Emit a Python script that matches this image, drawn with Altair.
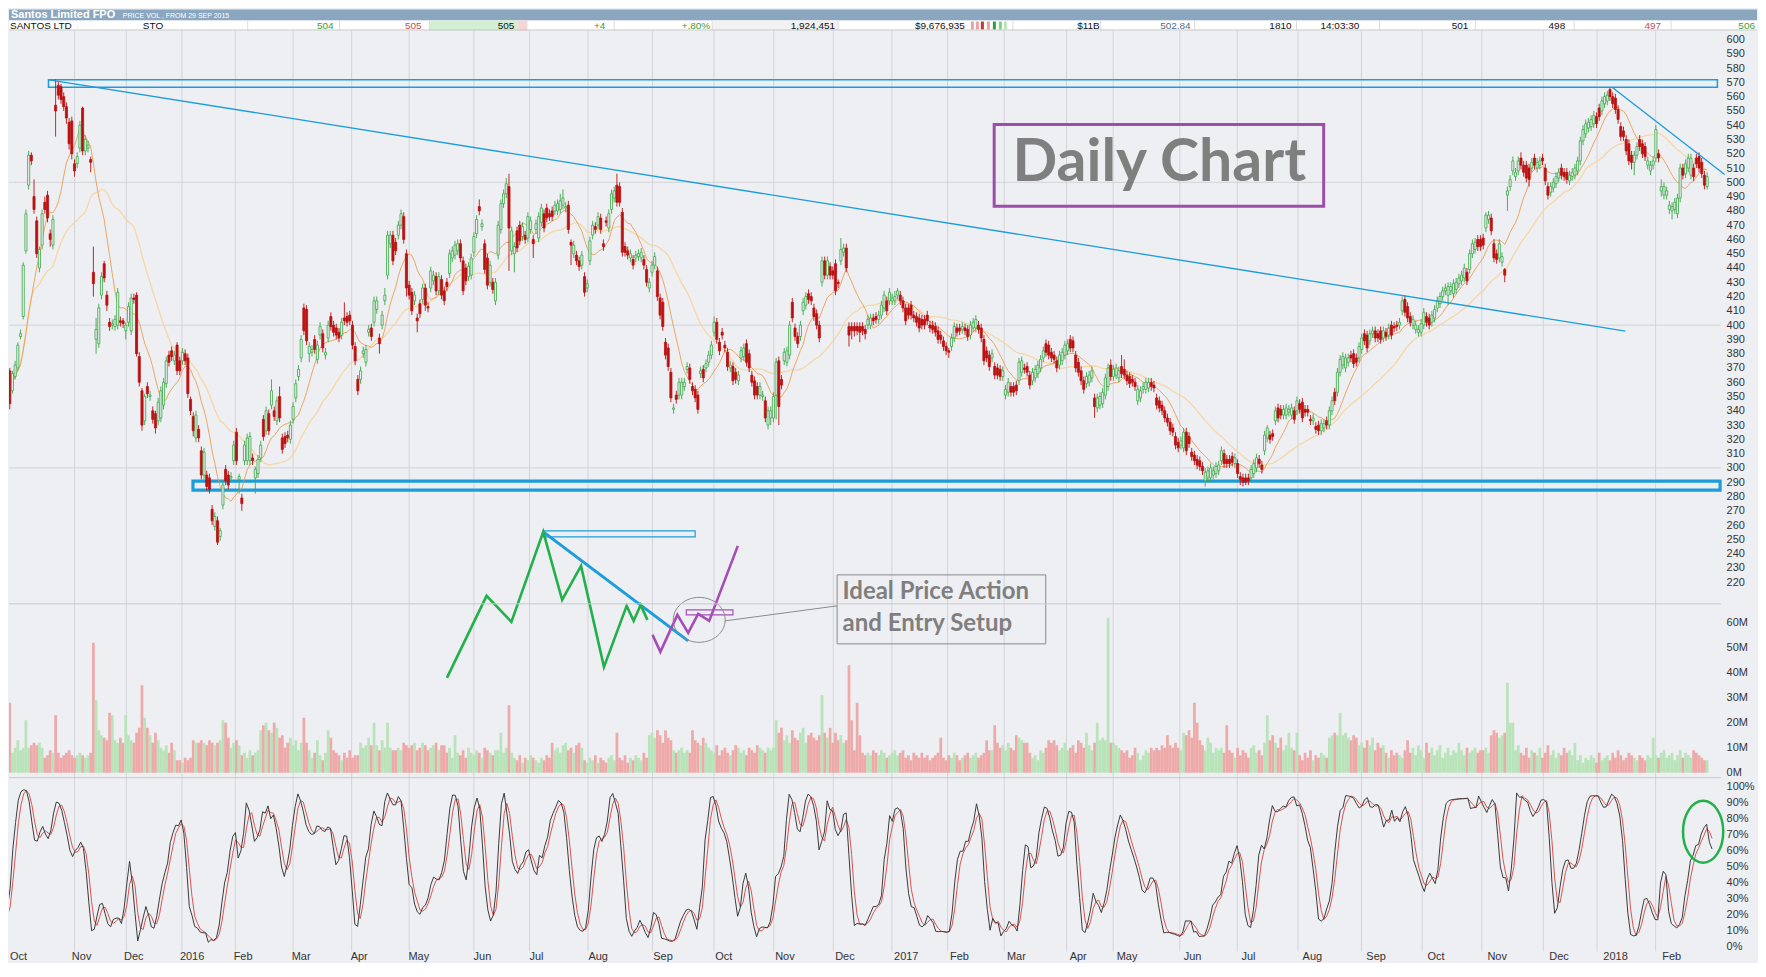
import altair as alt
import pandas as pd

# ---------------- candles: (open, close, high, low) in cents, one per trading day ----------------
CANDLES_SEG1 = [
(393,372,396,366),(368,345,370,341),(354,366,368,352),(364,372,375,362),(370,386,388,368),
(392,394,397,390),(406,442,444,404),(452,478,481,450),(498,519,522,495),(519,515,521,512),
(490,481,502,478),(473,450,476,447),(440,453,455,437),(456,478,481,453),(486,481,490,478),
(491,475,494,472),(464,460,467,455),(456,474,477,453),(554,550,572,532),(568,561,571,558),
(567,558,569,555),(560,553,563,550),(553,545,556,541),(542,527,545,523),(543,520,546,516),
(513,508,516,504),(513,518,521,510),(524,540,543,521),(552,522,553,519),(522,530,533,519),
(524,526,529,521),(516,514,518,507),(437,429,455,420),(390,397,405,380),(387,412,415,384),
(421,434,437,418),(443,433,445,430),(421,414,424,410),(402,399,405,396),(400,401,404,397),
(399,404,407,396),(400,423,426,397),(403,402,406,399),(403,401,405,398),(396,400,402,390),
(402,413,416,399),(396,419,422,393),(419,418,422,415),(421,380,423,378),(378,360,381,357),
(354,330,356,326),(333,350,352,330),(357,352,360,349),(350,351,354,347),(340,334,343,331),
(338,328,340,324),(333,346,349,330),(335,354,357,332),(344,360,363,341),(359,375,378,356),
(379,374,382,371),(382,378,385,375),(375,379,382,372),(386,368,388,365),(375,368,378,365),
(375,381,384,372),(380,375,383,372),(377,352,380,349),(348,340,350,337),(336,326,339,322),
(321,337,340,318),(327,321,330,318),(312,295,315,292),(295,311,314,292),(295,287,298,284),
(293,285,296,282),(271,263,274,260),(259,266,269,256),(263,248,266,246),(252,256,258,249),
(274,288,291,271),(299,291,302,288),(295,288,298,285),(293,294,297,290),(305,316,319,302),
(325,305,328,302),(292,294,296,282),(279,275,282,270),(305,316,319,302),(305,321,324,302),
(305,322,325,302),(307,305,310,302),(293,299,301,282),(296,306,309,293),(307,316,319,304),
(334,322,337,319),(326,340,343,323),(338,326,341,323),(344,354,362,341),(340,336,343,333),
(333,347,350,330),(350,335,357,332),(321,313,324,310),(322,317,325,314),(323,321,326,318),
(320,330,333,317),(334,343,346,331),(349,359,362,346),(364,369,372,361),(377,390,393,374),
(412,396,415,393),(411,389,414,386),(380,385,388,374),(381,383,386,378),(390,383,393,380),
(376,386,389,373),(393,399,402,390),(394,384,397,381),(379,381,384,376),(391,400,403,388),
(406,399,409,396),(400,395,403,392),(398,393,401,390),(395,391,398,388),(393,402,405,390),
(405,403,416,400),(406,402,409,399),(407,403,410,400),(400,386,403,383),(385,375,388,372),
(362,354,365,351),(362,368,371,359),(380,382,385,377),(374,383,386,371),(395,397,400,392),
(398,392,401,389),(402,417,420,399),(411,417,420,408),(391,387,394,380),(400,407,410,397),
(417,421,426,414),(435,463,466,432),(457,463,466,454),(463,445,466,442),(458,452,461,449),
(463,470,473,460),(470,478,481,467),(476,460,479,457),(450,426,453,420),(428,421,431,418),
(423,410,426,407),(417,421,424,414),(405,403,408,395),(415,408,418,405),(418,426,429,415),
(426,414,429,410),(413,412,416,409),(426,438,441,423),(431,435,438,428),(434,424,437,421),
(424,434,437,421),(432,421,435,418),
]
CANDLES_SEG2 = [
(424,417,427,414),(430,427,433,424),(436,450,453,433),(447,452,455,444),(449,456,459,446),
(452,457,460,449),(457,447,460,444),(445,424,448,421),(440,431,443,428),(434,441,444,431),
(435,447,450,432),(451,462,465,448),(464,474,477,461),(483,480,488,477),(469,471,474,466),
(457,439,460,436),(447,428,450,425),(430,442,445,427),(430,425,433,422),(417,430,433,414),
(449,470,473,446),(467,485,488,464),(485,492,495,482),(492,499,503,489),(497,468,506,438),
(452,466,469,449),(450,455,458,437),(466,454,469,451),(470,459,473,456),(462,469,472,459),
(463,460,466,457),(461,476,479,458),(467,473,476,464),(460,457,463,447),(467,471,474,464),
(461,476,479,458),(472,482,485,469),(478,468,481,465),(482,475,485,472),(478,476,481,473),
(480,476,483,473),(480,484,487,477),(480,485,488,477),(481,487,492,478),(484,489,495,481),
(482,483,486,479),(484,467,487,464),(458,456,460,442),(450,456,459,447),(449,445,452,442),
(445,441,448,438),(442,449,452,439),(434,423,437,420),(426,429,432,423),(445,459,462,442),
(463,470,473,460),(469,467,472,464),(470,476,479,467),(475,467,478,464),(457,455,460,452),
(473,472,476,469),(468,478,481,465),(481,492,495,478),(489,494,497,486),(498,486,506,483),
(497,486,500,483),(479,451,482,448),(455,451,458,448),(452,449,455,446),(447,450,453,444),
(446,442,449,439),(447,449,452,444),(448,450,453,445),(447,451,454,444),(446,442,449,439),
(439,430,442,427),(426,430,433,423),(437,442,445,434),(442,448,451,439),(438,420,441,417),
(419,407,422,404),(416,399,419,396),(388,379,391,376),(384,371,387,368),(367,349,370,346),
(341,342,345,338),(351,348,354,345),(351,360,363,348),(351,360,363,348),(357,360,363,354),
(369,371,374,366),(370,362,373,359),(357,354,360,351),(355,349,358,346),(351,341,354,338),
(366,368,371,363),(369,363,372,360),(370,373,376,367),(374,379,382,371),(379,386,389,376),
(395,402,406,392),(402,390,405,387),(388,382,391,379),(395,393,398,390),(386,384,389,381),
(381,371,384,368),(370,372,375,367),(371,361,374,358),(367,362,370,359),(361,365,368,358),
(377,382,385,374),(378,384,387,375),(387,374,390,371),(380,370,383,367),(365,360,368,357),
(361,351,364,348),(357,351,360,348),(351,357,360,348),(350,351,354,347),(347,335,350,332),
(330,340,343,327),(335,340,343,330),(335,350,353,332),(351,374,377,334),(375,343,378,330),
(362,358,365,355),(375,381,384,372),(374,382,385,371),(379,400,403,376),(416,405,419,402),
(398,392,401,389),(392,387,395,384),(392,400,403,389),(410,416,419,407),(414,420,423,411),
(422,418,425,415),(420,417,423,414),(412,406,415,403),(408,400,411,397),(400,391,403,388),
(430,445,448,427),(445,435,448,432),(435,445,448,432),(441,435,444,432),(438,435,441,432),
(443,424,446,421),(430,429,432,426),(445,453,461,442),(451,454,457,448),(454,440,457,437),
(399,393,402,385),(399,396,402,390),(399,396,402,392),(399,396,402,393),(399,395,402,388),
(399,396,402,393),(397,394,400,390),
]
CANDLES_SEG3 = [
(400,404,407,397),(400,405,408,397),(405,403,408,400),(406,404,409,401),(404,407,410,401),
(407,414,417,404),(412,421,424,409),(417,410,420,407),(417,423,426,414),(417,419,422,414),
(417,420,424,414),(421,424,426,418),(421,417,424,414),(417,412,420,409),(412,403,415,400),
(412,407,415,404),(414,407,417,404),(407,405,410,402),(406,402,409,399),(405,398,408,395),
(404,400,407,397),(404,400,407,397),(407,403,410,400),(400,398,403,395),(400,397,403,394),
(399,395,402,392),(396,390,399,387),(393,390,396,387),(389,385,392,382),(385,382,388,379),
(382,381,384,377),(385,391,394,382),(391,399,402,388),(398,395,401,392),(398,396,401,393),
(397,399,402,394),(398,396,401,393),(397,392,400,389),(393,400,403,390),(398,402,405,395),
(398,404,407,395),(400,397,403,394),(398,391,401,388),(390,375,393,372),(382,377,385,374),
(379,371,382,368),(377,380,383,374),(371,365,374,362),(370,365,373,362),(369,364,372,361),
(364,368,371,361),(351,355,358,348),(353,360,363,350),(357,353,360,350),(357,353,360,350),
(358,354,361,351),(361,374,377,358),(367,375,378,364),(370,369,373,366),(371,367,374,364),
(365,358,368,355),(361,367,370,358),(363,369,372,360),(366,372,375,363),(370,376,379,367),
(377,382,385,374),(387,381,390,378),(386,379,389,376),(381,377,384,374),(379,376,382,373),
(375,370,378,367),(372,379,382,369),(375,381,384,372),(379,386,389,376),(382,387,390,379),
(390,384,393,381),(389,384,392,381),(379,370,382,367),(374,367,377,364),(368,361,371,358),
(361,355,364,352),(359,364,367,356),(360,365,368,357),(363,368,371,360),(349,343,352,335),
(342,349,352,339),(344,350,353,341),(345,353,356,342),(351,363,366,348),(357,370,373,354),
(372,364,376,361),(364,369,372,361),(365,370,373,362),(363,368,371,360),(371,366,379,363),
(369,365,376,362),(365,361,368,358),(364,359,367,356),(362,360,365,357),(360,357,363,354),
(347,355,358,344),(349,354,357,346),(355,357,360,352),(355,360,363,352),(356,360,363,353),
(360,357,363,354),(358,356,361,353),(349,344,352,341),(347,342,350,339),(344,340,347,337),
(340,335,343,332),(335,332,338,329),(332,326,335,323),(328,325,331,322),(322,316,325,313),
(318,314,321,311),(316,319,322,313),(314,325,328,311),(325,312,328,309),(322,317,325,314),
(311,308,314,305),(309,305,312,302),(306,302,309,299),(305,301,308,298),(301,298,304,295),
(291,297,300,287),(293,298,301,290),(293,300,303,290),(295,298,301,292),(296,301,304,293),
(298,302,305,295),(305,312,315,302),(310,303,313,300),(306,303,309,300),(306,303,309,300),
(308,304,311,301),(303,307,310,300),(303,296,306,293),(294,292,297,288),(293,290,296,287),
(293,290,296,288),(293,291,296,288),(293,299,302,290),(296,303,306,293),(300,307,310,297),
(306,303,309,300),(302,299,305,296),(312,323,326,309),(321,328,330,318),(323,320,326,317),
(324,322,327,319),(333,340,343,330),(342,335,345,332),(341,337,344,334),(337,341,344,334),
(337,342,345,334),(339,341,344,336),(337,342,345,334),(340,334,343,331),(340,347,350,337),
]
CANDLES_SEG4 = [
(345,341,348,338),(346,335,349,332),(341,339,344,336),(341,339,344,336),(334,333,337,330),
(333,335,338,330),(329,327,332,324),(330,326,333,323),(326,331,334,323),(328,331,334,325),
(333,330,336,327),(330,340,343,327),(340,347,350,337),(353,347,356,344),(353,367,370,350),
(367,376,379,364),(372,378,381,369),(370,377,380,367),(374,377,380,371),(379,377,382,374),
(380,373,383,370),(377,374,380,371),(377,385,388,374),(383,391,394,380),(394,389,397,386),
(393,384,396,381),(389,394,397,386),(394,396,399,391),(396,391,399,388),(394,391,397,388),
(396,390,399,387),(391,396,399,388),(395,392,398,389),(393,398,401,390),(400,393,403,390),
(399,398,402,395),(400,399,403,396),(400,402,405,397),(410,417,420,407),(418,409,421,406),
(413,405,416,402),(406,402,409,399),(400,404,407,397),(397,400,403,394),(395,397,400,392),
(395,401,404,392),(400,409,412,397),(406,402,409,399),(405,400,408,397),(402,407,410,399),
(405,411,414,402),(412,417,420,409),(415,420,423,412),(420,424,427,417),(424,426,429,421),
(421,427,430,414),(424,427,430,421),(422,429,432,419),(425,430,433,422),(429,433,436,426),
(431,435,438,428),(433,440,443,430),(437,431,440,428),(439,450,453,436),(450,457,460,447),
(453,458,461,450),(460,455,463,452),(460,455,463,452),(461,456,464,453),(468,477,479,465),
(474,477,480,471),(475,466,478,463),(457,447,460,444),(450,446,453,443),(447,457,460,444),
(444,448,451,441),(439,435,440,430),(491,494,497,480),(497,502,505,494),(508,515,518,505),
(504,507,510,501),(508,515,518,505),(517,512,521,509),(512,507,515,504),(512,503,515,500),
(510,502,513,497),(510,514,517,507),(517,512,520,509),(510,514,517,507),(512,515,518,509),
(517,515,520,512),(510,501,513,498),(497,491,500,488),(493,497,500,490),(496,500,503,493),
(499,504,507,496),(503,507,510,500),(510,505,513,502),(507,504,510,501),(507,502,510,499),
(501,505,508,498),(504,507,510,501),(505,510,513,502),(508,515,518,505),(515,529,532,512),
(529,537,540,526),(534,541,544,531),(538,542,545,535),(539,544,547,536),(541,547,550,538),
(546,541,549,538),(552,546,555,543),(550,557,560,547),(555,560,563,552),(557,561,564,554),
(565,560,566,557),(560,555,563,552),(559,551,562,548),(551,544,554,541),(539,532,542,529),
(536,532,539,529),(530,522,533,519),(527,515,530,512),(519,514,522,509),(514,519,522,505),
(519,525,528,516),(530,525,533,522),(527,520,530,517),(525,518,528,515),(512,515,518,509),
(508,512,515,505),(512,515,518,509),(517,537,540,514),(520,517,523,514),(494,497,502,490),
(491,497,500,488),(491,494,497,488),(481,484,487,478),(480,483,486,474),(481,486,489,478),
(478,489,492,475),(489,510,513,486),(510,505,513,502),(506,513,516,503),(510,517,520,507),
(505,517,520,502),(510,504,513,501),(517,513,520,510),(518,510,521,507),(514,506,517,503),
(505,498,508,495),(497,504,507,495),
]

# ---------------- daily volume, millions of shares ----------------
VOL_SEG1 = [
15,28,8,10,13,9,10,21,10,11, 12,11,12,10,6,7,9,8,23,8, 6,7,8,9,7,6,7,8,7,6,
7,8,52,29,17,15,14,13,24,23, 13,12,14,12,23,15,13,12,16,18, 35,22,18,15,12,16,13,10,9,11,
8,12,9,5,5,4,6,5,6,13, 12,12,13,12,11,13,12,11,12,13, 21,20,14,10,12,13,11,7,8,6,
9,7,8,9,17,19,20,17,16,20, 18,14,15,10,12,14,11,13,9,12, 22,12,9,6,8,13,7,5,8,17,
14,9,8,7,5,8,6,9,6,7, 7,12,10,11,14,11,20,11,9,13, 10,20,10,9,9,10,9,12,11,10,
11,12,9,10,12,11,9,10,11,12, 9,11,
]
VOL_SEG2 = [
11,8,10,6,15,8, 7,9,6,10,8,7,9,8,6,10,9,8,7,9, 9,16,8,10,27,
8,6,5,7,4,6,5,7,6,5,4,6,5,7,6, 12,9,10,8,11,12,9,10,8,11,12,10,
5,4,6,5,7,4,6,5,4,6,7,5, 16, 6,5,7,4,6,5,7,6,5,8,6, 15,16,14,17,15,12,17,14,13,
9,8,9,10,8,9,8, 17, 13,12,11,14,12,
10,9,8,11,7,9,10,8,7,9,11,10,8,9,7,10,9,8,11,10,9,8,10,9, 10,21,
16,18,13,15,12,17,14,13,16,18,12,15,16,14,13,15, 31, 16,14,18,12,16,13,15,12,
13,43,21,9,28,15,8,7,
]
VOL_SEG3 = [
8,7,9,8,7,9,8,6,7,8,9,7,8,9,
6,7,5,8,7,6,8,6,7,5,6,7,8,14,6,5,7,6,8,7,5,6,7,8,6,7,8,6,7,8,13,9,
9,19,12,10,11,9,12,10,9,15,14,13,12,12,8,6,7,5,9,8,10,13,12,13,
11,9,10,12,9,10,11,8,13,12,10,16,11,9,12,20,13,14,13,62,12,
12,11,10,9,8,9,6,7,10,8,5,7,9,8,10,9,10,9,11,10,15,11,10,12,10,9,
16,15,17,14,28,20,13,11,9,14,12,8,10,9,10,8,19,
9,8,6,10,7,9,8,6,10,11,8,9,7,12,23,13,15,12,10,14,9,11,16,10,9,16,
]
VOL_SEG4 = [
7,5,8,6,9,5,7,6,8,7,6, 14,15,16,15,24,
15,16,14,13,15,14,11,12,10,13,11,14,9,12,10,11, 8,6,9,7,8,7,6,9, 13,
8,10,7,11,9,6,12,8,10,7,9,11,6,8,10,7,9,8,12,9,7,10,8,9,10,8,9,
9,10,8, 15,17,16,14,15,16, 36, 20,20,
9,11,8,7,10,6,9,8,7,10,6,8,11,7,9,6,8,7,10,8, 9,7, 12,
5,7,4,6,5,7,6,4,8,5,6,7,5,8,6,9,7,5,6,8,7,6,5,7,6,5,7, 6, 14,
7,6,8,9,6,7,8,5,7,9,6,8,7,6,9,8,7,6,5,5,
]

# ---------------- axis labels ----------------
MONTH_LABELS = ["Oct", "Nov", "Dec", "2016", "Feb", "Mar", "Apr", "May", "Jun", "Jul", "Aug", "Sep",
                "Oct", "Nov", "Dec", "2017", "Feb", "Mar", "Apr", "May", "Jun", "Jul", "Aug", "Sep",
                "Oct", "Nov", "Dec", "2018", "Feb"]
MONTH_START = [2.2, 25.0, 44.2, 64.8, 84.6, 106.0, 127.7, 149.0, 173.0, 193.6, 215.3, 239.2,
               262.0, 284.1, 306.2, 327.9, 348.5, 369.5, 392.6, 409.9, 434.6, 455.9, 478.4, 501.9,
               524.4, 546.5, 569.3, 589.2, 610.9]
PRICE_TICKS = list(range(220, 601, 10))
PRICE_GRID = [300, 400, 500]
VOL_TICKS = [0, 10, 20, 30, 40, 50, 60]
STOCH_TICKS = list(range(0, 101, 10))

# ---------------- header ----------------
HEADER_LEFT = ["SANTOS LTD", "STO", "14:03:30"]
HEADER_RIGHT = ["504", "505", "505", "+4", "+.80%", "1,924,451", "$9,676,935", "$11B", "502.84",
                "1810", "501", "498", "497", "506"]

# ---------------- annotation text ----------------
BOX_TITLE = "Daily Chart"
CALLOUT_LINES = ["Ideal Price Action", "and Entry Setup"]

# ======================= styling & layout =======================
BG = "#eeeff3"
GREEN = "#3aa845"
RED = "#bb1111"
BLUE = "#1b9ddb"
PURPLE = "#9c4ea8"
DGREEN = "#22b04b"
GRIDC = "#d3d4da"
FONT = "Liberation Sans"

PW = 1714
PH, VH, SH = 574, 174, 174
X_DOMAIN = [2.576, 633.3]

rows = CANDLES_SEG1 + CANDLES_SEG2 + CANDLES_SEG3 + CANDLES_SEG4
df = pd.DataFrame(rows, columns=["O", "C", "H", "L"])
df["V"] = VOL_SEG1 + VOL_SEG2 + VOL_SEG3 + VOL_SEG4
df["i"] = range(len(df))
df["up"] = df["C"] >= df["O"]

months = pd.DataFrame({"pos": MONTH_START, "label": MONTH_LABELS})

xs = alt.Scale(domain=X_DOMAIN, nice=False, zero=False)
ps = alt.Scale(domain=[204.8, 606.3], nice=False, zero=False)
vs = alt.Scale(domain=[-2.0, 67.6], nice=False, zero=False)
ss = alt.Scale(domain=[-3.1, 105.6], nice=False, zero=False)


def raxis(values, expr=None):
    kw = dict(orient="right", values=values, labelAlign="left", labelPadding=5, ticks=False,
              domain=False, grid=False, title=None, labelFontSize=11, labelColor="#333333",
              labelFont=FONT, labelBaseline="middle", labelOverlap=False, labelFlush=False)
    if expr:
        kw["labelExpr"] = expr
    return alt.Axis(**kw)


PAX = raxis(PRICE_TICKS)
VAX = raxis(VOL_TICKS, "datum.value + 'M'")
SAX = raxis(STOCH_TICKS, "datum.value + '%'")

X = lambda f: alt.X(f, scale=xs, axis=None)
Y = lambda f: alt.Y(f, scale=ps, axis=PAX)

up_color = alt.condition("datum.up", alt.value(GREEN), alt.value(RED))
up_fill = alt.condition("datum.up", alt.value(BG), alt.value(RED))

# ---------------- price panel ----------------
vgrid = alt.Chart(months).transform_filter(f"datum.pos >= {X_DOMAIN[0]}").mark_rule(
    color=GRIDC, strokeWidth=1).encode(x=X("pos:Q"), y=alt.value(0), y2=alt.value(PH + VH + SH))
hgrid = alt.Chart(pd.DataFrame({"p": PRICE_GRID})).mark_rule(color=GRIDC, strokeWidth=1).encode(
    y=Y("p:Q"))

ann_boxes = pd.DataFrame({
    "x": [15.35, 68.9], "x2": [633.8, 634.8], "y": [566.6, 284.5], "y2": [571.8, 290.8],
    "w": [1.5, 3.2]})
boxes = alt.Chart(ann_boxes).mark_rect(fill="transparent", stroke=BLUE).encode(
    x=X("x:Q"), x2="x2:Q", y=Y("y:Q"), y2="y2:Q",
    strokeWidth=alt.StrokeWidth("w:Q", scale=None, legend=None))

trend = pd.DataFrame({"x": [15.57, 594.9], "x2": [599.7, 636.5], "y": [571.8, 566.4], "y2": [395.8, 505.4]})
trends = alt.Chart(trend).mark_rule(color=BLUE, strokeWidth=1.3).encode(
    x=X("x:Q"), x2="x2:Q", y=Y("y:Q"), y2="y2:Q")

mas = alt.Chart(df).transform_window(
    ma10="mean(C)", frame=[-9, 0], sort=[alt.SortField("i")]
).transform_window(
    ma30="mean(C)", frame=[-29, 0], sort=[alt.SortField("i")])
ma_slow = mas.mark_line(color="#f6d49c", strokeWidth=1.3, opacity=0.9, clip=True).encode(
    x=X("i:Q"), y=Y("ma30:Q"))
ma_fast = mas.mark_line(color="#e89a48", strokeWidth=1, opacity=0.85, clip=True).encode(
    x=X("i:Q"), y=Y("ma10:Q"))

wicks = alt.Chart(df).mark_rule(strokeWidth=0.9, clip=True).encode(
    x=X("i:Q"), y=Y("L:Q"), y2="H:Q", color=up_color)
bodies = alt.Chart(df).mark_bar(size=2.1, strokeWidth=0.8, clip=True).encode(
    x=X("i:Q"), y=Y("O:Q"), y2="C:Q", fill=up_fill, stroke=up_color)

daily_box = alt.Chart(pd.DataFrame({"x": [365.8], "x2": [487.9], "y": [483.2], "y2": [540.5]})).mark_rect(
    fill="transparent", stroke=PURPLE, strokeWidth=3).encode(x=X("x:Q"), x2="x2:Q", y=Y("y:Q"), y2="y2:Q")
daily_txt = alt.Chart(pd.DataFrame({"x": [372.6], "y": [500.7], "t": [BOX_TITLE]})).mark_text(
    align="left", baseline="alphabetic", font="Lato", fontWeight="bold", fontSize=59, color="#7f7f7f"
).encode(x=X("x:Q"), y=Y("y:Q"), text="t:N")

green_path = pd.DataFrame({
    "x": [163.0, 177.7, 186.9, 198.7, 205.7, 212.7, 221.2, 229.6, 232.2, 234.8, 237.3],
    "y": [153.0, 210.4, 192.2, 255.2, 207.6, 231.4, 160.7, 203.4, 192.9, 204.1, 193.6]})
green_path["k"] = range(len(green_path))
purple_path = pd.DataFrame({
    "x": [239.2, 242.1, 248.4, 252.4, 256.1, 260.2, 270.8],
    "y": [183.1, 171.2, 197.1, 184.5, 197.8, 192.9, 245.4]})
purple_path["k"] = range(len(purple_path))
g_line = alt.Chart(green_path).mark_line(color=DGREEN, strokeWidth=2.6).encode(
    x=X("x:Q"), y=Y("y:Q"), order="k:Q")
p_line = alt.Chart(purple_path).mark_line(color="#a64cb8", strokeWidth=2.6).encode(
    x=X("x:Q"), y=Y("y:Q"), order="k:Q")
b_line = alt.Chart(pd.DataFrame({"x": [198.7], "x2": [252.4], "y": [255.2], "y2": [178.9]})).mark_rule(
    color=BLUE, strokeWidth=3).encode(x=X("x:Q"), x2="x2:Q", y=Y("y:Q"), y2="y2:Q")
small_boxes = pd.DataFrame({"x": [198.7, 251.7], "x2": [255.0, 269.0], "y": [251.7, 197.1],
                            "y2": [255.9, 200.6], "c": [BLUE, "#a64cb8"]})
s_boxes = alt.Chart(small_boxes).mark_rect(fill="transparent", strokeWidth=1.2).encode(
    x=X("x:Q"), x2="x2:Q", y=Y("y:Q"), y2="y2:Q", stroke=alt.Stroke("c:N", scale=None))
ell = alt.Chart(pd.DataFrame({"x": [256.5], "y": [193.6]})).mark_point(
    shape="M -1 0 A 1 0.865 0 1 1 1 0 A 1 0.865 0 1 1 -1 0 Z", size=2704, filled=False,
    stroke="#8a8a8a", strokeWidth=1, opacity=1).encode(x=X("x:Q"), y=Y("y:Q"))
conn = alt.Chart(pd.DataFrame({"x": [266.1], "x2": [307.6], "y": [192.9], "y2": [203.4]})).mark_rule(
    color="#8a8a8a", strokeWidth=1).encode(x=X("x:Q"), x2="x2:Q", y=Y("y:Q"), y2="y2:Q")
callout = alt.Chart(pd.DataFrame({"x": [307.6], "x2": [384.9], "y": [176.8], "y2": [225.1]})).mark_rect(
    fill="transparent", stroke="#8a8a8a", strokeWidth=1).encode(x=X("x:Q"), x2="x2:Q", y=Y("y:Q"), y2="y2:Q")
callout_txt = alt.Chart(pd.DataFrame({"x": [309.6, 309.6], "y": [213.4, 190.6], "t": CALLOUT_LINES})).mark_text(
    align="left", baseline="middle", font="Lato", fontWeight="bold", fontSize=24, color="#7f7f7f"
).encode(x=X("x:Q"), y=Y("y:Q"), text="t:N")

price = alt.layer(
    vgrid, hgrid, boxes, ma_slow, ma_fast, wicks, bodies, trends, daily_box, daily_txt,
    b_line, s_boxes, g_line, p_line, ell, conn, callout, callout_txt
).properties(width=PW, height=PH)

# ---------------- volume panel ----------------
vol_color = alt.condition("datum.up", alt.value("#b9e3b9"), alt.value("#eea9a9"))
vol_sep = alt.Chart(months.head(1)).mark_rule(color="#c8c9cf").encode(
    x=alt.value(0), x2=alt.value(PW), y=alt.value(0))
vol_bars = alt.Chart(df).mark_bar(size=2.75, clip=True).encode(
    x=X("i:Q"), y=alt.Y("V:Q", scale=vs, axis=VAX), y2=alt.datum(0), color=vol_color)
volume = alt.layer(vol_bars, vol_sep).properties(width=PW, height=VH)

# ---------------- stochastic panel ----------------
st = alt.Chart(df).transform_window(
    ll="min(L)", hh="max(H)", frame=[-13, 0], sort=[alt.SortField("i")]
).transform_calculate(
    k="100 * (datum.C - datum.ll) / max(1, datum.hh - datum.ll)"
).transform_window(
    sk="mean(k)", frame=[-2, 0], sort=[alt.SortField("i")]
).transform_window(
    sd="mean(sk)", frame=[-2, 0], sort=[alt.SortField("i")])
st_d = st.mark_line(color="#d9534f", strokeWidth=1, clip=True).encode(
    x=X("i:Q"), y=alt.Y("sd:Q", scale=ss, axis=SAX))
st_k = st.mark_line(color="#3a3a3a", strokeWidth=1, clip=True).encode(
    x=X("i:Q"), y=alt.Y("sk:Q", scale=ss, axis=SAX))
st_sep = alt.Chart(months.head(1)).mark_rule(color="#c8c9cf").encode(
    x=alt.value(0), x2=alt.value(PW), y=alt.value(0))
st_circle = alt.Chart(pd.DataFrame({"x": [626.7], "y": [71.8]})).mark_point(
    shape="M -0.65 0 A 0.65 1 0 1 1 0.65 0 A 0.65 1 0 1 1 -0.65 0 Z", size=3844, filled=False,
    stroke=DGREEN, strokeWidth=2.5, opacity=1).encode(x=X("x:Q"), y=alt.Y("y:Q", scale=ss, axis=SAX))
mlabels = alt.Chart(months).mark_text(
    align="left", baseline="middle", dx=2, font=FONT, fontSize=11, color="#333333"
).encode(x=X("pos:Q"), y=alt.value(SH + 6), text="label:N")
stoch = alt.layer(st_sep, st_d, st_k, st_circle, mlabels).properties(width=PW, height=SH)

# ---------------- header ----------------
HW, HH = 1750, 21
hxs = alt.Scale(domain=[8, 1758], nice=False, zero=False)
HX = lambda f: alt.X(f, scale=hxs, axis=None)
hdr_rects = pd.DataFrame({
    "x": [8, 8, 429, 517, 712, 971, 976, 981, 987, 993, 999, 1004],
    "x2": [1758, 1758, 517, 527, 838, 974, 979, 984, 990, 996, 1002, 1007],
    "y": [0, 11, 11, 11, 11, 12, 12, 12, 12, 12, 12, 12],
    "y2": [11, 21, 21, 21, 21, 20, 20, 20, 20, 20, 20, 20],
    "c": ["#8ba7bf", "#ffffff", "#d3efd3", "#f5d5d5", "#f2f2f2",
          "#e9a3a3", "#e9a3a3", "#c0392b", "#e9a3a3", "#2e9e3e", "#7fcf86", "#b8e6b8"]})
h_rect = alt.Chart(hdr_rects).mark_rect().encode(
    x=HX("x:Q"), x2="x2:Q",
    y=alt.Y("y:Q", scale=alt.Scale(domain=[0, HH], range=[0, HH], nice=False, zero=False), axis=None),
    y2="y2:Q", fill=alt.Fill("c:N", scale=None))
h_seps = alt.Chart(pd.DataFrame({"x": [247, 339, 429, 525, 614, 712, 838, 1013, 1101, 1195, 1297,
                                        1380, 1476, 1575, 1672]})).mark_rule(color="#dcdcdc").encode(
    x=HX("x:Q"), y=alt.value(11), y2=alt.value(21))
h_bottom = alt.Chart(pd.DataFrame({"x": [8], "x2": [1758]})).mark_rule(color="#c4c4c8").encode(
    x=HX("x:Q"), x2="x2:Q", y=alt.value(HH - 0.5))
title_df = pd.DataFrame({"x": [10], "t": ["Santos Limited FPO"]})
h_title = alt.Chart(title_df).mark_text(align="left", baseline="middle", font=FONT, fontWeight="bold",
                                        fontSize=11, color="white").encode(
    x=HX("x:Q"), y=alt.value(5.5), text="t:N")
sub_df = pd.DataFrame({"x": [122], "t": ["PRICE VOL , FROM 29 SEP 2015"]})
h_sub = alt.Chart(sub_df).mark_text(align="left", baseline="middle", font=FONT, fontSize=7,
                                    color="white").encode(x=HX("x:Q"), y=alt.value(6), text="t:N")
left_df = pd.DataFrame({"x": [9, 142, 1321], "t": HEADER_LEFT})
h_left = alt.Chart(left_df).mark_text(align="left", baseline="middle", font=FONT, fontSize=10,
                                      color="#111111").encode(x=HX("x:Q"), y=alt.value(16.5), text="t:N")
right_df = pd.DataFrame({
    "x": [333, 421, 514, 605, 710, 835, 965, 1100, 1191, 1292, 1469, 1566, 1662, 1756],
    "t": HEADER_RIGHT,
    "c": ["#3c9c3c", "#c0504d", "#111111", "#3c9c3c", "#3c9c3c", "#111111", "#111111", "#111111",
          "#5a6b80", "#111111", "#111111", "#111111", "#c0504d", "#3c9c3c"]})
h_right = alt.Chart(right_df).mark_text(align="right", baseline="middle", font=FONT, fontSize=10).encode(
    x=HX("x:Q"), y=alt.value(16.5), text="t:N", color=alt.Color("c:N", scale=None))
header = alt.layer(h_rect, h_seps, h_bottom, h_title, h_sub, h_left, h_right).properties(width=HW, height=HH)

chart = alt.vconcat(header, price, volume, stoch, spacing=0, bounds="flush").properties(
    padding=0, background=BG
).configure_view(strokeWidth=0)

chart.save("out.html", embed_options={"renderer": "svg", "actions": False})
